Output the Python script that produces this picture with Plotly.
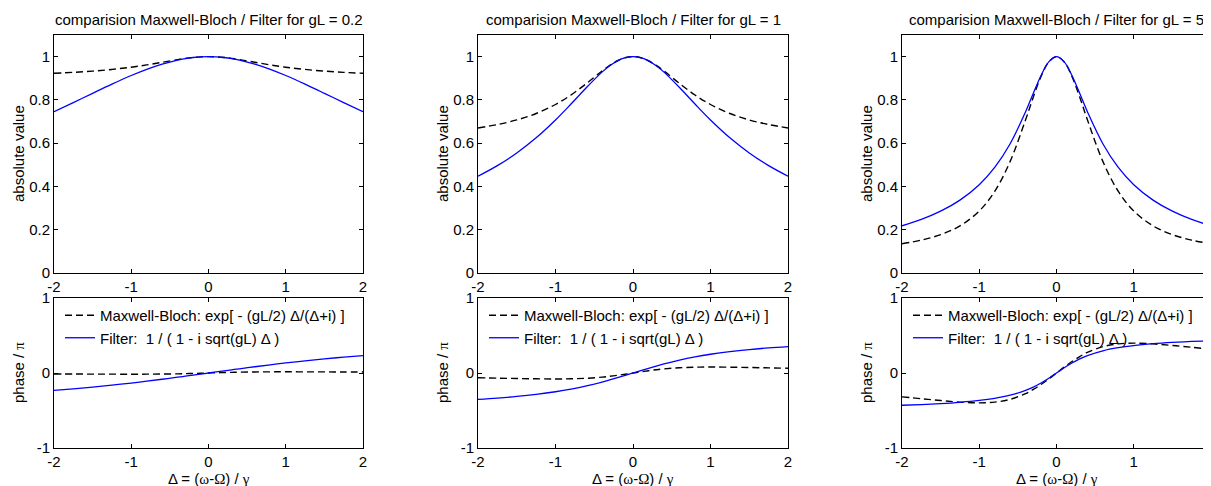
import plotly.graph_objects as go

# detuning grid, Delta = (omega - Omega) / gamma
delta = [-2, -1.75, -1.5, -1.25, -1, -0.8, -0.6, -0.4, -0.3, -0.2, -0.1, 0,
         0.1, 0.2, 0.3, 0.4, 0.6, 0.8, 1, 1.25, 1.5, 1.75, 2]

gl_values = ['0.2', '1', '5']

# gL = 0.2
mb_abs_02 = [0.9231, 0.9274, 0.9331, 0.9409, 0.9512, 0.9617, 0.9739, 0.9863, 0.9918, 0.9962, 0.9990, 1,
             0.9990, 0.9962, 0.9918, 0.9863, 0.9739, 0.9617, 0.9512, 0.9409, 0.9331, 0.9274, 0.9231]
filt_abs_02 = [0.7454, 0.7875, 0.8305, 0.8729, 0.9129, 0.9416, 0.9658, 0.9844, 0.9911, 0.9960, 0.9990, 1,
               0.9990, 0.9960, 0.9911, 0.9844, 0.9658, 0.9416, 0.9129, 0.8729, 0.8305, 0.7875, 0.7454]
mb_phase_02 = [-0.0127, -0.0137, -0.0147, -0.0155, -0.0159, -0.0155, -0.0140, -0.0110, -0.0088, -0.0061, -0.0032, 0,
               0.0032, 0.0061, 0.0088, 0.0110, 0.0140, 0.0155, 0.0159, 0.0155, 0.0147, 0.0137, 0.0127]
filt_phase_02 = [-0.2323, -0.2114, -0.1881, -0.1623, -0.1339, -0.1094, -0.0834, -0.0563, -0.0425, -0.0284, -0.0142, 0,
                 0.0142, 0.0284, 0.0425, 0.0563, 0.0834, 0.1094, 0.1339, 0.1623, 0.1881, 0.2114, 0.2323]

# gL = 1
mb_abs_1 = [0.6703, 0.6860, 0.7074, 0.7372, 0.7788, 0.8227, 0.8760, 0.9334, 0.9596, 0.9810, 0.9951, 1,
            0.9951, 0.9810, 0.9596, 0.9334, 0.8760, 0.8227, 0.7788, 0.7372, 0.7074, 0.6860, 0.6703]
filt_abs_1 = [0.4472, 0.4961, 0.5547, 0.6247, 0.7071, 0.7809, 0.8575, 0.9285, 0.9578, 0.9806, 0.9950, 1,
              0.9950, 0.9806, 0.9578, 0.9285, 0.8575, 0.7809, 0.7071, 0.6247, 0.5547, 0.4961, 0.4472]
mb_phase_1 = [-0.0637, -0.0686, -0.0735, -0.0776, -0.0796, -0.0776, -0.0702, -0.0549, -0.0438, -0.0306, -0.0158, 0,
              0.0158, 0.0306, 0.0438, 0.0549, 0.0702, 0.0776, 0.0796, 0.0776, 0.0735, 0.0686, 0.0637]
filt_phase_1 = [-0.3524, -0.3348, -0.3128, -0.2852, -0.25, -0.2148, -0.1720, -0.1211, -0.0928, -0.0628, -0.0317, 0,
                0.0317, 0.0628, 0.0928, 0.1211, 0.1720, 0.2148, 0.25, 0.2852, 0.3128, 0.3348, 0.3524]

# gL = 5
mb_abs_5 = [0.1353, 0.1519, 0.1772, 0.2178, 0.2865, 0.3770, 0.5159, 0.7083, 0.8135, 0.9083, 0.9756, 1,
            0.9756, 0.9083, 0.8135, 0.7083, 0.5159, 0.3770, 0.2865, 0.2178, 0.1772, 0.1519, 0.1353]
filt_abs_5 = [0.2182, 0.2476, 0.2857, 0.3369, 0.4082, 0.4880, 0.5976, 0.7454, 0.8305, 0.9129, 0.9759, 1,
              0.9759, 0.9129, 0.8305, 0.7454, 0.5976, 0.4880, 0.4082, 0.3369, 0.2857, 0.2476, 0.2182]
mb_phase_5 = [-0.3183, -0.3428, -0.3673, -0.3882, -0.3979, -0.3882, -0.3511, -0.2744, -0.2190, -0.1530, -0.0788, 0,
              0.0788, 0.1530, 0.2190, 0.2744, 0.3511, 0.3882, 0.3979, 0.3882, 0.3673, 0.3428, 0.3183]
filt_phase_5 = [-0.4300, -0.4204, -0.4078, -0.3906, -0.3661, -0.3377, -0.2961, -0.2323, -0.1881, -0.1339, -0.0700, 0,
                0.0700, 0.1339, 0.1881, 0.2323, 0.2961, 0.3377, 0.3661, 0.3906, 0.4078, 0.4204, 0.4300]

mb_abs = [mb_abs_02, mb_abs_1, mb_abs_5]
filt_abs = [filt_abs_02, filt_abs_1, filt_abs_5]
mb_phase = [mb_phase_02, mb_phase_1, mb_phase_5]
filt_phase = [filt_phase_02, filt_phase_1, filt_phase_5]

x_ticks = [-2, -1, 0, 1, 2]
x_ticktext = ['-2', '-1', '0', '1', '2']
abs_ticks = [0, 0.2, 0.4, 0.6, 0.8, 1]
abs_ticktext = ['0', '0.2', '0.4', '0.6', '0.8', '1']
phase_ticks = [-1, 0, 1]
phase_ticktext = ['-1', '0', '1']

mb_label = 'Maxwell-Bloch: exp[ - (gL/2) \u0394/(\u0394+i) ]'
filt_label = 'Filter: \u00a01 / ( 1 - i sqrt(gL) \u0394 )'
serif = '<span style="font-family:Liberation Serif, Times New Roman, serif">{}</span>'
x_title = '\u0394 = (' + serif.format('\u03c9') + '-' + serif.format('\u03a9') + ') / ' + serif.format('\u03b3')
phase_title = 'phase / ' + serif.format('\u03c0')

# page coordinates (the browser body keeps an 8px margin round the figure)
W, H = 1211, 486
OFF = 8
FW, FH = W - OFF, H - OFF
FONT = 'Liberation Sans, Arial, Helvetica, sans-serif'

# pixel boxes of the axes (left, right) per column, (top, bottom) per row
col_px = [(54, 363), (478, 788), (902, 1211)]
top_px = (35, 273)
bot_px = (298, 448)


def px_x(p):
    return (p - OFF) / FW


def px_y(p):
    return 1 - (p - OFF) / FH


fig = go.Figure()

for c in range(3):
    top = '' if c == 0 else str(c + 1)
    bot = str(c + 4)
    leg = 'legend' if c == 0 else f'legend{c + 1}'
    fig.add_scatter(x=delta, y=mb_abs[c], mode='lines', line=dict(color='black', width=1.4, dash='7px,4px', shape='spline'),
                    xaxis='x' + top, yaxis='y' + top, showlegend=False)
    fig.add_scatter(x=delta, y=filt_abs[c], mode='lines', line=dict(color='#0000ff', width=1.3, shape='spline'),
                    xaxis='x' + top, yaxis='y' + top, showlegend=False)
    fig.add_scatter(x=delta, y=mb_phase[c], mode='lines', name=mb_label, legend=leg,
                    line=dict(color='black', width=1.4, dash='7px,4px', shape='spline'),
                    xaxis='x' + bot, yaxis='y' + bot)
    fig.add_scatter(x=delta, y=filt_phase[c], mode='lines', name=filt_label, legend=leg,
                    line=dict(color='#0000ff', width=1.3, shape='spline'),
                    xaxis='x' + bot, yaxis='y' + bot)

axis_common = dict(showline=True, linecolor='black', linewidth=1, mirror='ticks', ticks='inside',
                   ticklen=4, tickcolor='black', showgrid=False, zeroline=False,
                   tickfont=dict(family=FONT, size=15, color='black'))

layout = dict(width=FW, height=FH, margin=dict(l=0, r=0, t=0, b=0, autoexpand=False),
              paper_bgcolor='white', plot_bgcolor='white',
              font=dict(family=FONT, size=15, color='black'))

annotations = []
for c in range(3):
    l, r = col_px[c]
    dom_x = [px_x(l), min(px_x(r), 1.0)]
    ti = '' if c == 0 else str(c + 1)
    bi = str(c + 4)
    layout['xaxis' + ti] = dict(axis_common, domain=dom_x, range=[-2, 2], tickvals=x_ticks,
                                ticktext=x_ticktext, anchor='y' + ti)
    layout['yaxis' + ti] = dict(axis_common, domain=[px_y(top_px[1]), px_y(top_px[0])], range=[0, 1.1],
                                tickvals=abs_ticks, ticktext=abs_ticktext, anchor='x' + ti)
    layout['xaxis' + bi] = dict(axis_common, domain=dom_x, range=[-2, 2], tickvals=x_ticks,
                                ticktext=x_ticktext, anchor='y' + bi)
    layout['yaxis' + bi] = dict(axis_common, domain=[px_y(bot_px[1]), px_y(bot_px[0])], range=[-1, 1],
                                tickvals=phase_ticks, ticktext=phase_ticktext, anchor='x' + bi)

    leg = 'legend' if c == 0 else f'legend{c + 1}'
    layout[leg] = dict(x=px_x(l + 6), y=px_y(299), xanchor='left', yanchor='top',
                       bgcolor='rgba(0,0,0,0)', borderwidth=0,
                       font=dict(family=FONT, size=15, color='black'),
                       tracegroupgap=0, itemwidth=30)

    cx = px_x((l + r) / 2)
    annotations.append(dict(text=f'comparision Maxwell-Bloch / Filter for gL = {gl_values[c]}',
                            x=cx, y=px_y(20), xref='paper', yref='paper', showarrow=False,
                            xanchor='center', yanchor='middle', font=dict(size=15)))
    annotations.append(dict(text=x_title, x=cx, y=px_y(478),
                            xref='paper', yref='paper', showarrow=False,
                            xanchor='center', yanchor='middle', font=dict(size=15)))
    annotations.append(dict(text='absolute value', x=px_x(l - 36), y=px_y(sum(top_px) / 2),
                            xref='paper', yref='paper', showarrow=False, textangle=-90,
                            xanchor='center', yanchor='middle', font=dict(size=15)))
    annotations.append(dict(text=phase_title, x=px_x(l - 36), y=px_y(sum(bot_px) / 2),
                            xref='paper', yref='paper', showarrow=False, textangle=-90,
                            xanchor='center', yanchor='middle', font=dict(size=15)))

layout['annotations'] = annotations
fig.update_layout(**layout)

fig.write_html('out.html')
